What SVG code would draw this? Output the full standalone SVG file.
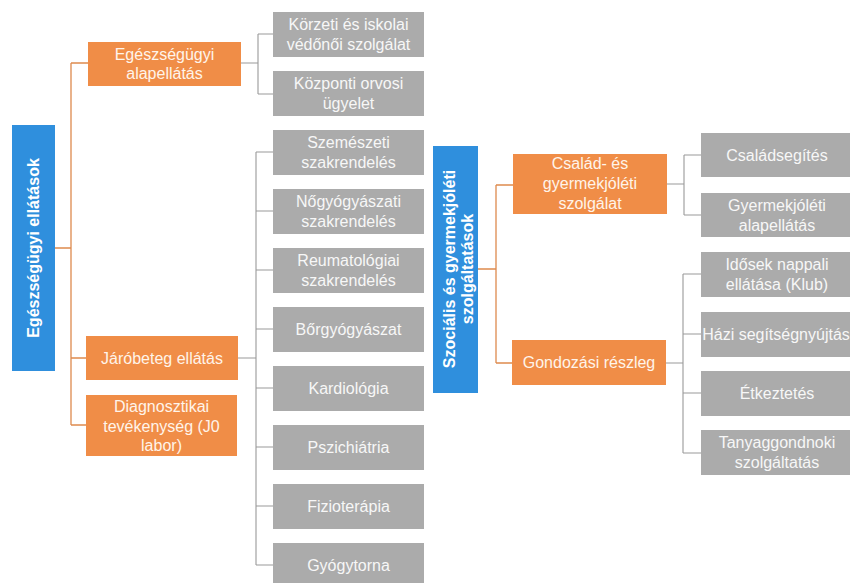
<svg xmlns="http://www.w3.org/2000/svg" width="850" height="583" viewBox="0 0 850 583">
<style>
.bg{fill:#ffffff}
.blue{fill:#2F8FDD}
.orange{fill:#F08D47}
.gray{fill:#ABABAB}
text{font-family:"Liberation Sans",Arial,sans-serif;font-size:16px;text-anchor:middle}
.tb{fill:#ffffff;font-weight:bold}
.to{fill:#FFF4EA}
.tg{fill:#F7F7F7}
.co{fill:none;stroke:#DE8A4E;stroke-width:1.3}
.cg{fill:none;stroke:#9A9A9A;stroke-width:1.1}
</style>
<rect class="bg" x="0" y="0" width="850" height="583"/>
<g id="connectors">
  <path class="co" d="M55,248 H71 M71,63 V425 M71,63 H88 M71,358 H86 M71,425 H86"/>
  <path class="cg" d="M241,63 H258 M258,34 V94 M258,34 H273 M258,94 H273"/>
  <path class="cg" d="M238,358 H256 M256,152 V565 M256,152 H273 M256,211 H273 M256,270 H273 M256,329 H273 M256,388 H273 M256,447 H273 M256,506 H273 M256,565 H273"/>
  <path class="co" d="M478,269 H496 M496,185 V363 M496,185 H513 M496,363 H512"/>
  <path class="cg" d="M667,184 H684 M684,155 V215 M684,155 H701 M684,215 H701"/>
  <path class="cg" d="M666,363 H683 M683,274 V453 M683,274 H701 M683,334 H701 M683,393 H701 M683,453 H701"/>
</g>
<g id="n-egeszsegugyi-ellatasok">
  <rect class="blue" x="12" y="125" width="43" height="246"/>
  <text class="tb" transform="translate(39,248) rotate(-90)" x="0" y="0">Egészségügyi ellátások</text>
</g>
<g id="n-alapellatas">
  <rect class="orange" x="88" y="42" width="153" height="44"/>
  <text class="to" x="164.5" y="59.5">Egészségügyi</text>
  <text class="to" x="164.5" y="79">alapellátás</text>
</g>
<g id="n-jarobeteg">
  <rect class="orange" x="86" y="336" width="152" height="44"/>
  <text class="to" x="162" y="363.5">Járóbeteg ellátás</text>
</g>
<g id="n-diagnosztikai">
  <rect class="orange" x="86" y="395" width="151" height="61"/>
  <text class="to" x="161.5" y="412">Diagnosztikai</text>
  <text class="to" x="161.5" y="431.5">tevékenység (J0</text>
  <text class="to" x="161.5" y="451">labor)</text>
</g>
<g id="n-korzeti">
  <rect class="gray" x="273" y="12" width="151" height="45"/>
  <text class="tg" x="348.5" y="30">Körzeti és iskolai</text>
  <text class="tg" x="348.5" y="50">védőnői szolgálat</text>
</g>
<g id="n-kozponti">
  <rect class="gray" x="273" y="71" width="151" height="45"/>
  <text class="tg" x="348.5" y="89">Központi orvosi</text>
  <text class="tg" x="348.5" y="109">ügyelet</text>
</g>
<g id="n-szemeszeti">
  <rect class="gray" x="273" y="130" width="151" height="45"/>
  <text class="tg" x="348.5" y="148">Szemészeti</text>
  <text class="tg" x="348.5" y="168">szakrendelés</text>
</g>
<g id="n-nogyogyaszati">
  <rect class="gray" x="273" y="189" width="151" height="45"/>
  <text class="tg" x="348.5" y="207">Nőgyógyászati</text>
  <text class="tg" x="348.5" y="227">szakrendelés</text>
</g>
<g id="n-reumatologiai">
  <rect class="gray" x="273" y="248" width="151" height="45"/>
  <text class="tg" x="348.5" y="266">Reumatológiai</text>
  <text class="tg" x="348.5" y="286">szakrendelés</text>
</g>
<g id="n-borgyogyaszat">
  <rect class="gray" x="273" y="307" width="151" height="45"/>
  <text class="tg" x="348.5" y="335">Bőrgyógyászat</text>
</g>
<g id="n-kardiologia">
  <rect class="gray" x="273" y="366" width="151" height="45"/>
  <text class="tg" x="348.5" y="394">Kardiológia</text>
</g>
<g id="n-pszichiatria">
  <rect class="gray" x="273" y="425" width="151" height="45"/>
  <text class="tg" x="348.5" y="453">Pszichiátria</text>
</g>
<g id="n-fizioterapia">
  <rect class="gray" x="273" y="484" width="151" height="45"/>
  <text class="tg" x="348.5" y="512">Fizioterápia</text>
</g>
<g id="n-gyogytorna">
  <rect class="gray" x="273" y="543" width="151" height="45"/>
  <text class="tg" x="348.5" y="571">Gyógytorna</text>
</g>
<g id="n-szocialis">
  <rect class="blue" x="433" y="146" width="45" height="247"/>
  <text class="tb" transform="translate(455,269) rotate(-90)" x="0" y="0">Szociális és gyermekjóléti</text>
  <text class="tb" transform="translate(455,269) rotate(-90)" x="0" y="18">szolgáltatások</text>
</g>
<g id="n-csalad">
  <rect class="orange" x="513" y="154" width="154" height="60"/>
  <text class="to" x="590" y="168.5">Család- és</text>
  <text class="to" x="590" y="188.5">gyermekjóléti</text>
  <text class="to" x="590" y="208.5">szolgálat</text>
</g>
<g id="n-gondozasi">
  <rect class="orange" x="512" y="340" width="154" height="45"/>
  <text class="to" x="589" y="368">Gondozási részleg</text>
</g>
<g id="n-csaladsegites">
  <rect class="gray" x="701" y="133" width="152" height="44"/>
  <text class="tg" x="777" y="160.5">Családsegítés</text>
</g>
<g id="n-gyermekjoleti">
  <rect class="gray" x="701" y="193" width="152" height="44"/>
  <text class="tg" x="777" y="210.5">Gyermekjóléti</text>
  <text class="tg" x="777" y="230.5">alapellátás</text>
</g>
<g id="n-idosek">
  <rect class="gray" x="701" y="252" width="152" height="45"/>
  <text class="tg" x="777" y="270">Idősek nappali</text>
  <text class="tg" x="777" y="290">ellátása (Klub)</text>
</g>
<g id="n-hazi">
  <rect class="gray" x="701" y="312" width="152" height="45"/>
  <text class="tg" x="776" y="340">Házi segítségnyújtás</text>
</g>
<g id="n-etkeztetes">
  <rect class="gray" x="701" y="371" width="152" height="45"/>
  <text class="tg" x="777" y="399">Étkeztetés</text>
</g>
<g id="n-tanyaggondnoki">
  <rect class="gray" x="701" y="430" width="152" height="45"/>
  <text class="tg" x="777" y="448">Tanyaggondnoki</text>
  <text class="tg" x="777" y="468">szolgáltatás</text>
</g>
</svg>
